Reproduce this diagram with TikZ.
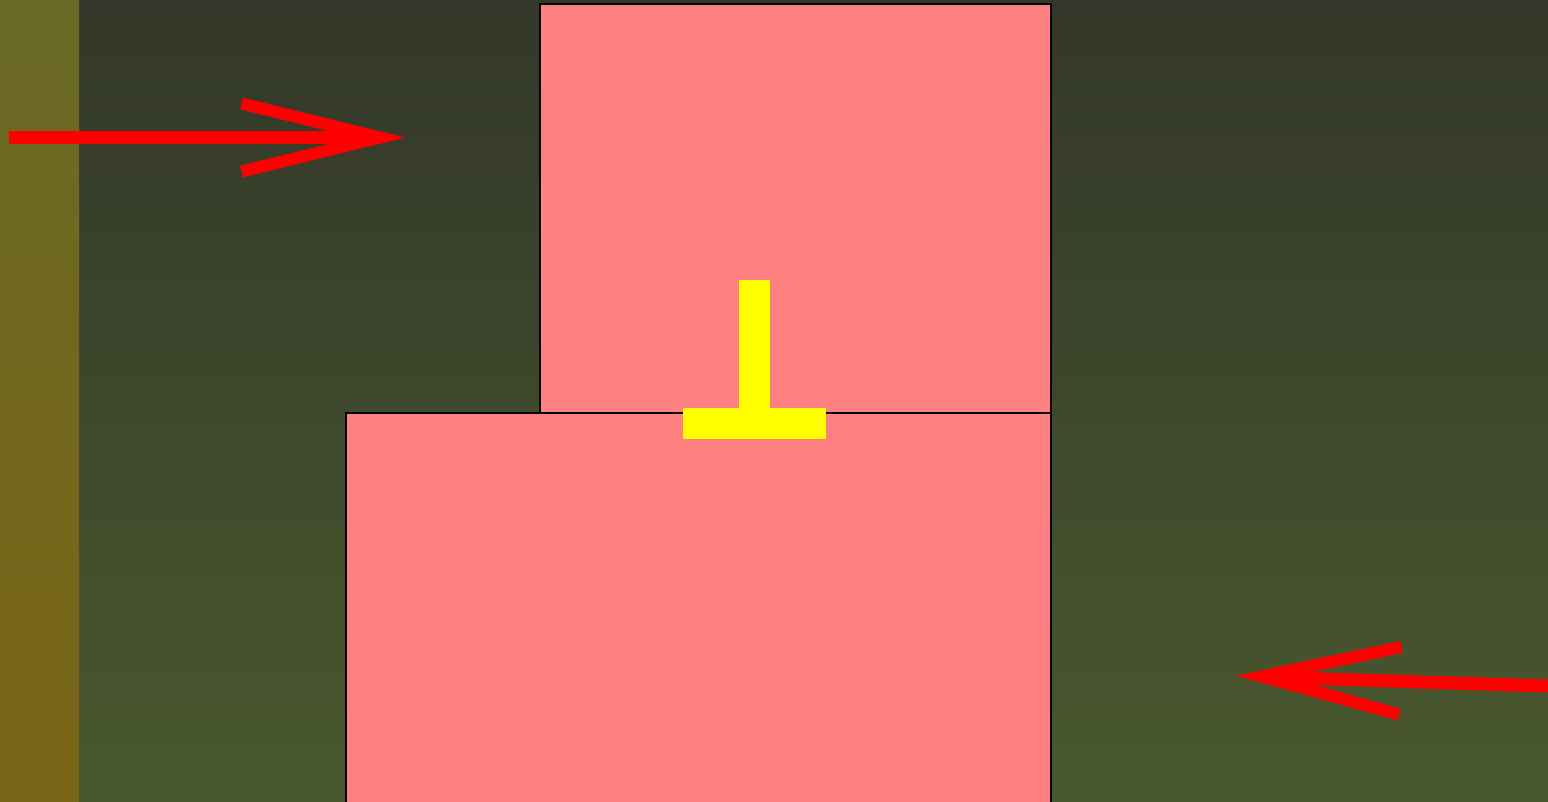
\documentclass[tikz,border=0pt]{standalone}
\usetikzlibrary{calc}
\definecolor{bgtop}{RGB}{51,55,41}
\definecolor{bgbot}{RGB}{73,88,46}
\definecolor{striptop}{RGB}{106,106,38}
\definecolor{stripbot}{RGB}{123,101,22}
\definecolor{boxpink}{RGB}{255,128,128}
\definecolor{tyellow}{RGB}{255,255,0}
\tikzset{
  pinkbox/.style={fill=boxpink,draw=black,line width=1.5pt},
  redshaft/.style={draw=red,line width=13pt,line cap=butt},
  redhead/.style={draw=red,line width=12pt,line cap=butt,line join=miter,miter limit=10},
  yellowbar/.style={fill=tyellow,draw=none}
}
\begin{document}
\begin{tikzpicture}[x=1pt,y=-1pt]
\useasboundingbox (0,0) rectangle (1548,801);
\clip (0,0) rectangle (1548,801);
% background
\shade[top color=bgtop,bottom color=bgbot] (0,0) rectangle (1548,801);
\shade[top color=striptop,bottom color=stripbot] (0,0) rectangle (79,801);
% boxes
\draw[pinkbox] (540,4) rectangle (1051,413);
\draw[pinkbox] (346,413) rectangle (1051,812);
% T shape
\fill[yellowbar] (739,280) rectangle (770,410);
\fill[yellowbar] (683,408) rectangle (826,439);
% left arrow
\coordinate (la0) at (9,137);
\coordinate (la1) at (381,137);
\coordinate (lt1) at (241.5,103.5);
\coordinate (lt2) at (241.5,171.5);
\coordinate (ltip) at (380,137.5);
\draw[redshaft] (la0) -- (la1);
\draw[redhead] (lt1) -- (ltip) -- (lt2);
% right arrow
\coordinate (ra0) at (1560,686.4);
\coordinate (ra1) at (1263,677);
\coordinate (rt1) at (1401.5,647);
\coordinate (rt2) at (1399,714.5);
\coordinate (rtip) at (1261.5,676.5);
\draw[redshaft] (ra0) -- (ra1);
\draw[redhead] (rt1) -- (rtip) -- (rt2);
\end{tikzpicture}
\end{document}
